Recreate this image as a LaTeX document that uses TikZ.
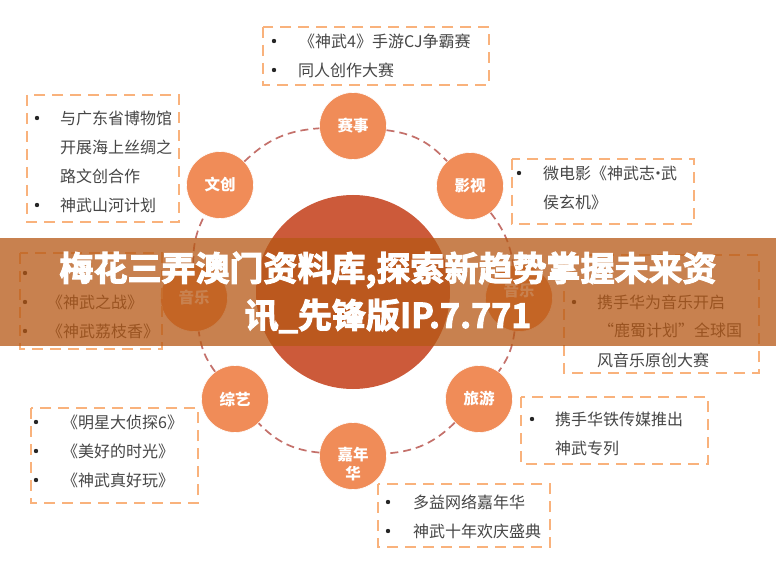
\documentclass[tikz,border=0pt]{standalone}
\usepackage{fontspec}
\setmainfont{Noto Sans CJK SC}
\newfontfamily\titlefont[FakeBold=3]{Noto Sans CJK SC Bold}
\usepackage{tikz}
\definecolor{petal}{RGB}{240,140,88}
\definecolor{hub}{RGB}{204,90,58}
\definecolor{dashbox}{RGB}{249,178,124}
\definecolor{ringred}{RGB}{196,112,106}
\definecolor{itemgrey}{RGB}{70,70,70}
\definecolor{bandbrown}{RGB}{182,88,21}
\tikzset{
petalnode/.style={circle, fill=petal, draw=white, line width=0.6pt, minimum size=67pt, inner sep=0pt, text=white, align=center, font=\fontsize{15.5}{19}\selectfont\bfseries},
petaltext/.style={inner sep=0pt, text=white, align=center, font=\fontsize{15.5}{19}\selectfont\bfseries},
ringline/.style={draw=ringred, line width=1.7pt, dash pattern=on 8pt off 5pt},
itembox/.style={draw=dashbox, line width=1.8pt, dash pattern=on 11pt off 7pt},
itemtext/.style={anchor=west, inner sep=0pt, text=itemgrey, font=\fontsize{16}{18}\selectfont},
itemdot/.style={circle, fill=black!85, inner sep=0pt, minimum size=4.4pt}
}
\begin{document}
\begin{tikzpicture}[x=1pt,y=-1pt]
\useasboundingbox (0,0) rectangle (776,585);
\fill[white] (0,0) rectangle (776,585);
% hub and petals
\node[circle, fill=hub, minimum size=194pt, inner sep=0pt] (hubnode) at (353,292) {};
\node[petalnode] (saishi) at (353,126) {赛事};
\node[petalnode] (yingshi) at (470,186) {影视};
\node[petalnode] (yinyueR) at (519,298) {};
\node[petaltext] (yinyueRtext) at ([yshift=7pt]yinyueR.center) {音乐};
\node[petalnode] (lvyou) at (479,399) {旅游};
\node[petalnode] (jianianhua) at (353,456) {};
\node[petaltext] (jianianhuatext) at ([yshift=-8pt]jianianhua.center) {嘉年\\华};
\node[petalnode] (zongyi) at (235,399) {综艺};
\node[petalnode] (yinyueL) at (194,298) {音乐};
\node[petalnode] (wenchuang) at (220,185) {文创};
% ring
\draw[ringline] (saishi) to[bend left=20] (yingshi);
\draw[ringline] (yingshi) to[bend left=14] (yinyueR);
\draw[ringline] (yinyueR) to[bend left=14] (lvyou);
\draw[ringline] (lvyou) to[bend left=20] (jianianhua);
\draw[ringline] (jianianhua) to[bend left=20] (zongyi);
\draw[ringline] (zongyi) to[bend left=14] (yinyueL);
\draw[ringline] (yinyueL) to[bend left=14] (wenchuang);
\draw[ringline] (wenchuang) to[bend left=20] (saishi);
% boxes
\draw[itembox] (263,27) rectangle (489,85);
\draw[itembox] (27,95) rectangle (179,222);
\draw[itembox] (512,159) rectangle (694,224);
\draw[itembox] (20,253) rectangle (162,349);
\draw[itembox] (564,255) rectangle (759,373);
\draw[itembox] (31,408) rectangle (198,503);
\draw[itembox] (521,397) rectangle (708,464);
\draw[itembox] (378,484) rectangle (550,547);
% top
\node[itemdot] (d1) at (274,41) {};
\node[itemtext] (t1) at (299,41) {《神武4》手游CJ争霸赛};
\node[itemdot] (d2) at (274,70) {};
\node[itemtext] (t2) at (298,70) {同人创作大赛};
% left top
\node[itemdot] (d3) at (37,118) {};
\node[itemtext] (t3) at (60,118) {与广东省博物馆};
\node[itemtext] (t4) at (60,147) {开展海上丝绸之};
\node[itemtext] (t5) at (60,176) {路文创合作};
\node[itemdot] (d4) at (37,205) {};
\node[itemtext] (t6) at (60,205) {神武山河计划};
% right top
\node[itemdot] (d5) at (519,173) {};
\node[itemtext] (t7) at (543,173) {微电影《神武志\kern-5pt·\kern-5pt武};
\node[itemtext] (t8) at (543,202) {侯玄机》};
% left middle
\node[itemdot] (d6) at (25,273) {};
\node[itemdot] (d7) at (25,302) {};
\node[itemtext] (t10) at (47,302) {《神武之战》};
\node[itemdot] (d8) at (25,331) {};
\node[itemtext] (t11) at (47,331) {《神武荔枝香》};
% right middle
\node[itemdot] (d9) at (574,302) {};
\node[itemtext] (t12) at (597,302) {携手华为音乐开启};
\node[itemtext] (t13) at (598,330) {“鹿蜀计划”全球国};
\node[itemtext] (t14) at (597,360) {风音乐原创大赛};
% left bottom
\node[itemdot] (d10) at (36,422) {};
\node[itemtext] (t15) at (62,422) {《明星大侦探6》};
\node[itemdot] (d11) at (36,451) {};
\node[itemtext] (t16) at (62,451) {《美好的时光》};
\node[itemdot] (d12) at (36,480) {};
\node[itemtext] (t17) at (62,480) {《神武真好玩》};
% right bottom
\node[itemdot] (d13) at (532,419) {};
\node[itemtext] (t18) at (555,419) {携手华铁传媒推出};
\node[itemtext] (t19) at (555,448) {神武专列};
% bottom
\node[itemdot] (d14) at (388,502) {};
\node[itemtext] (t20) at (413,502) {多益网络嘉年华};
\node[itemdot] (d15) at (388,531) {};
\node[itemtext] (t21) at (413,531) {神武十年欢庆盛典};
% title band
\fill[bandbrown, opacity=0.75] (0,238) rectangle (776,346);
\node[text=white, align=center, inner sep=0pt, font=\titlefont\fontsize{34}{47}\selectfont] (titlenode) at (388,292.5) {梅花三弄澳门资料库,探索新趋势掌握未来资\\讯\_先锋版IP.7.771};
\end{tikzpicture}
\end{document}
